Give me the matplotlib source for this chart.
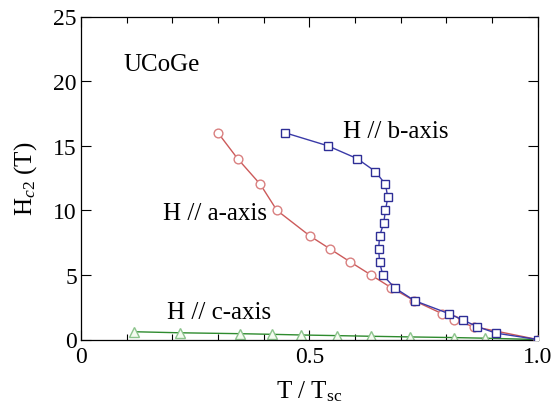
import numpy as np
import matplotlib
matplotlib.use('Agg')
import matplotlib.pyplot as plt
from matplotlib.ticker import MultipleLocator

plt.rcParams['font.family'] = ['Liberation Serif', 'DejaVu Serif']
plt.rcParams['mathtext.fontset'] = 'custom'
plt.rcParams['mathtext.rm'] = 'Liberation Serif'
plt.rcParams['mathtext.it'] = 'Liberation Serif:italic'

# H // a-axis
t_a = [0.30, 0.343, 0.393, 0.429, 0.502, 0.546, 0.590, 0.635, 0.68, 0.73,
       0.791, 0.817, 0.86, 1.0]
h_a = [16.0, 14.0, 12.0, 10.0, 8.0, 7.0, 6.0, 5.0, 4.0, 3.0, 2.0, 1.5, 1.0, 0.0]

# H // b-axis
t_b = [0.447, 0.540, 0.605, 0.645, 0.667, 0.672, 0.667, 0.663, 0.654, 0.652,
       0.654, 0.661, 0.687, 0.731, 0.806, 0.837, 0.868, 0.908, 1.0]
h_b = [16.0, 15.0, 14.0, 13.0, 12.0, 11.0, 10.0, 9.0, 8.0, 7.0, 6.0, 5.0,
       4.0, 3.0, 2.0, 1.5, 1.0, 0.5, 0.0]

# H // c-axis
t_c = [0.117, 0.216, 0.349, 0.419, 0.482, 0.561, 0.635, 0.72, 0.816, 0.886, 1.0]
h_c = [0.6, 0.52, 0.45, 0.4, 0.35, 0.3, 0.25, 0.2, 0.15, 0.1, 0.0]

fig = plt.figure(figsize=(5.54, 4.10), dpi=100)
ax = fig.add_axes([81 / 554, 69.5 / 410, 456.5 / 554, 323 / 410])

ax.plot(t_c, h_c, '-', color='#2e8b2e', lw=1.0, marker='^', ms=7.5,
        mfc='#f4fbf0', mec='#8cc48c', mew=1.0, zorder=2)
ax.plot(t_a, h_a, '-', color='#cc5a5a', lw=1.0, marker='o', ms=6.3,
        mfc='white', mec='#d98080', mew=1.0, zorder=3)
ax.plot(t_b, h_b, '-', color='#3a3aa8', lw=1.0, marker='s', ms=5.8,
        mfc='white', mec='#2e2e96', mew=1.0, zorder=4)

ax.set_xlim(0, 1.0)
ax.set_ylim(0, 25)
ax.xaxis.set_major_locator(MultipleLocator(0.5))
ax.xaxis.set_minor_locator(MultipleLocator(0.1))
ax.yaxis.set_major_locator(MultipleLocator(5))
ax.set_xticks([0, 0.5, 1.0])
ax.set_xticklabels(['0', '0.5', '1.0'])

ax.tick_params(which='both', direction='in', top=True, right=True, width=0.8)
ax.tick_params(which='major', length=7)
ax.tick_params(which='minor', length=4)
ax.tick_params(axis='x', labelsize=17, pad=5)
ax.tick_params(axis='y', labelsize=17, pad=3)
for sp in ax.spines.values():
    sp.set_linewidth(0.9)

ax.set_xlabel(r'T / T$_{\mathrm{sc}}$', fontsize=18, labelpad=8)
ax.set_ylabel(r'H$_{c2}$ (T)', fontsize=18, labelpad=10)

ax.text(0.094, 20.86, 'UCoGe', fontsize=18, ha='left', va='baseline')
ax.text(0.574, 15.7, 'H // b-axis', fontsize=18, ha='left', va='baseline')
ax.text(0.408, 9.33, 'H // a-axis', fontsize=18, ha='right', va='baseline')
ax.text(0.189, 1.66, 'H // c-axis', fontsize=18, ha='left', va='baseline')

fig.savefig('out.png', dpi=100, facecolor='white')
